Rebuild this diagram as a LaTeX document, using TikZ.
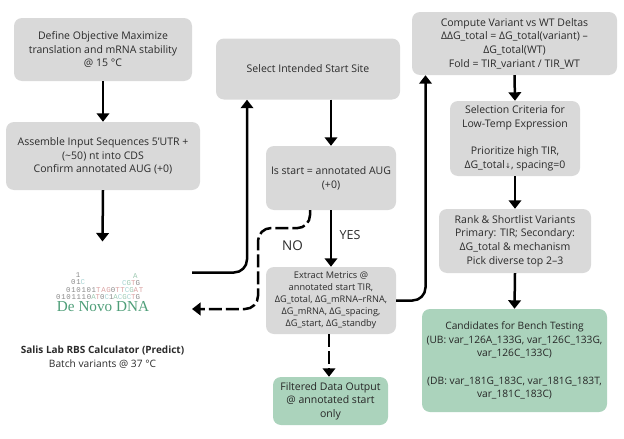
\documentclass[tikz,border=0pt]{standalone}
\usepackage{fontspec}
\setmainfont{Open Sans}
\newfontfamily\logomono[LetterSpace=9]{Liberation Mono}
\newfontfamily\logoserif{Liberation Serif}
\newfontfamily\arrowfont{DejaVu Sans}
\usetikzlibrary{arrows.meta}
\definecolor{boxgray}{HTML}{D9D9D9}
\definecolor{boxgreen}{HTML}{ABD3BC}
\definecolor{txt}{HTML}{2B2B2B}
\definecolor{lgray}{HTML}{8A8A8A}
\definecolor{lred}{HTML}{D9A0A0}
\definecolor{lgreen}{HTML}{9CC8B0}
\definecolor{lblue}{HTML}{A8D4D4}
\definecolor{logogreen}{HTML}{4E9E78}
\newcommand{\LR}[1]{\textcolor{lred}{#1}}
\newcommand{\LG}[1]{\textcolor{lgreen}{#1}}
\newcommand{\LB}[1]{\textcolor{lblue}{#1}}
\tikzset{
  flowbox/.style={rectangle,rounded corners=8pt,inner sep=0pt,align=center,text=txt,
    font=\fontsize{10.5}{13.7}\selectfont},
  graybox/.style={flowbox,fill=boxgray},
  greenbox/.style={flowbox,fill=boxgreen,text=black!85},
  smallbox/.style={graybox,font=\fontsize{9.2}{12.1}\selectfont},
  candbox/.style={greenbox,font=\fontsize{10.2}{13.7}\selectfont},
  conn/.style={line width=2.5pt,draw=black,-{Triangle[width=12.5pt,length=8.5pt]}},
  bent/.style={conn,rounded corners=13pt},
  dashline/.style={dash pattern=on 13pt off 4pt},
  lbl/.style={inner sep=0pt,text=txt},
  logoline/.style={inner sep=0pt,text=lgray,font=\logomono\fontsize{7.4}{7.4}\selectfont},
  caption/.style={inner sep=0pt,text=txt,font=\fontsize{10.2}{13}\selectfont},
}
\begin{document}
\begin{tikzpicture}[x=1pt,y=-1pt]
\useasboundingbox (0,0) rectangle (624,439);
% process boxes
\node[graybox,minimum width=178pt,minimum height=63pt] (define) at (103,49.5)
  {Define Objective Maximize\\translation and mRNA stability\\@ 15 °C};
\node[graybox,minimum width=194pt,minimum height=68pt] (assemble) at (103,156)
  {Assemble Input Sequences 5'UTR +\\(\textasciitilde 50) nt into CDS\\Confirm annotated AUG (+0)};
\node[graybox,minimum width=184pt,minimum height=61pt] (select) at (308,69)
  {Select Intended Start Site};
\node[graybox,minimum width=130pt,minimum height=64pt] (isstart) at (331,178)
  {Is start = annotated AUG\\(+0)};
\node[smallbox,minimum width=130pt,minimum height=67pt] (extract) at (331,300.5)
  {Extract Metrics @\\annotated start TIR,\\ΔG\_total, ΔG\_mRNA–rRNA,\\ΔG\_mRNA, ΔG\_spacing,\\ΔG\_start, ΔG\_standby};
\node[greenbox,minimum width=115pt,minimum height=48pt] (filtered) at (330.5,401)
  {Filtered Data Output\\@ annotated start\\only};
\node[graybox,minimum width=205pt,minimum height=63pt] (compute) at (514.5,43.5)
  {Compute Variant vs WT Deltas\\ΔΔG\_total = ΔG\_total(variant) –\\ΔG\_total(WT)\\Fold = TIR\_variant / TIR\_WT};
\node[graybox,minimum width=130pt,minimum height=75pt] (criteria) at (515,138.5)
  {Selection Criteria for\\Low-Temp Expression\\[13.7pt]Prioritize high TIR,\\ΔG\_total{\arrowfont\fontsize{7}{7}\selectfont ↓}, spacing=0};
\node[graybox,minimum width=152pt,minimum height=64pt] (rank) at (515,241)
  {Rank \& Shortlist Variants\\Primary: TIR; Secondary:\\ΔG\_total \& mechanism\\Pick diverse top 2–3};
\node[candbox,minimum width=185pt,minimum height=103pt] (cands) at (514.5,360.5)
  {Candidates for Bench Testing\\(UB: var\_126A\_133G, var\_126C\_133G,\\var\_126C\_133C)\\[13.7pt](DB: var\_181G\_183C, var\_181G\_183T,\\var\_181C\_183C)};
% logo
\node[logoline,anchor=base] (l1) at (78,277.5) {1};
\node[logoline,anchor=base west] (l2) at (71,284.5) {01\LB{C}};
\node[logoline,anchor=base west] (l2a) at (133,278) {\LG{A}};
\node[logoline,anchor=base west] (l2b) at (122,285) {\LB{C}\LG{G}\LR{T}G};
\node[logoline,anchor=base west] (l3) at (66,292) {010101\LR{TAG}0\LR{TT}\LB{C}\LG{G}\LR{AT}};
\node[logoline,anchor=base west] (l4) at (56,299) {0101110\LG{A}\LR{T}0\LB{C}1\LG{A}\LB{C}\LG{G}\LB{C}\LR{T}G};
\node[inner sep=0pt,text=logogreen,font=\logoserif\fontsize{15.2}{16}\selectfont] (logo) at (103,306.5) {De Novo DNA};
\node[caption,font=\bfseries\fontsize{10}{13}\selectfont] (calc) at (102.5,350) {Salis Lab RBS Calculator (Predict)};
\node[caption] (batch) at (102.5,364) {Batch variants @ 37 °C};
% labels
\node[lbl,font=\fontsize{12.5}{14}\selectfont] (yes) at (350,235) {YES};
\node[lbl,font=\fontsize{13.5}{15}\selectfont] (no) at (292.5,246) {NO};
% free ends
\coordinate (logotop) at (102.5,241.5);
\coordinate (logoout) at (192,272.5);
\coordinate (logoin) at (192,309);
% connectors
\draw[conn] (define.south) -- (assemble.north);
\draw[conn] (assemble.south) -- (logotop);
\draw[bent] (logoout) -| ([xshift=-61pt]select.south);
\draw[conn] ([xshift=23pt]select.south) -- (isstart.north);
\draw[conn] (isstart.south) -- (extract.north);
\draw[conn,dashline,rounded corners=13pt] ([xshift=-21pt]isstart.south) -- ++(0,18) -- (258,228) -- (258,309) -- (logoin);
\draw[conn,dashline] ([xshift=-2pt]extract.south) -- (filtered.north -| 329,0);
\draw[bent] (extract.east) -| ([xshift=-89pt]compute.south);
\draw[conn] (compute.south) -- (criteria.north);
\draw[conn] (criteria.south) -- (rank.north);
\draw[conn] (rank.south) -- (cands.north);
\end{tikzpicture}
\end{document}
